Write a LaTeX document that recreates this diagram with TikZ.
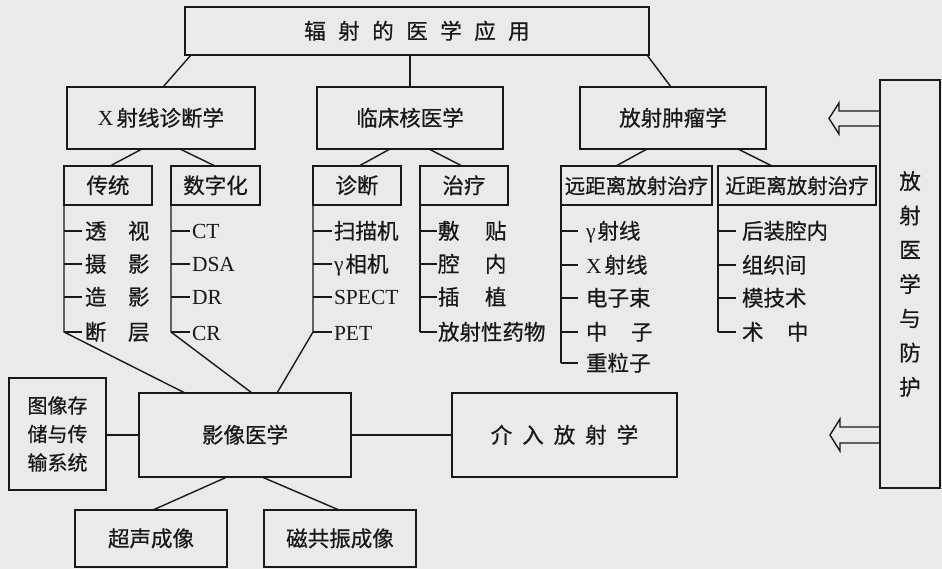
\documentclass[tikz,border=0pt]{standalone}
\usepackage{fontspec}
\setmainfont{Liberation Serif}
\newfontfamily\cjk[FakeBold=0.6]{Noto Sans CJK SC}
\usetikzlibrary{calc}
\definecolor{paper}{RGB}{234,234,234}
\definecolor{ink}{RGB}{24,24,24}
\newcommand\la[1]{{\rmfamily #1}}
\newcommand\cjkfont{\cjk\fontsize{21.5}{26}\selectfont}
\newcommand\cjksmall{\cjk\fontsize{20.5}{26}\selectfont}
\tikzset{
  frame/.style={draw=ink, line width=2.6pt, inner sep=0pt, outer sep=0pt},
  lbl/.style={font=\cjkfont, text=ink, text height=16pt, text depth=0pt},
  box/.style={frame, lbl},
  conn/.style={draw=ink, line width=1.4pt},
  item/.style={lbl, anchor=west, inner sep=0pt, outer sep=0pt},
  hollow/.style={draw=ink, line width=1.4pt, line join=miter},
}
\newcommand\bx[7][box]{%
  \pgfmathsetmacro\bxcx{(#3+#5)/2}\pgfmathsetmacro\bxcy{(#4+#6)/2}%
  \pgfmathsetmacro\bxw{#5-#3}\pgfmathsetmacro\bxh{#6-#4}%
  \node[#1, minimum width=\bxw pt, minimum height=\bxh pt] (#2) at (\bxcx,\bxcy) {#7};}
\begin{document}
\begin{tikzpicture}[x=1pt,y=-1pt]
\fill[paper] (0,0) rectangle (942,569);
\useasboundingbox (0,0) rectangle (942,569);

% boxes
\bx{T}{185}{7}{649}{55}{辐\hspace{12.5pt}射\hspace{12.5pt}的\hspace{12.5pt}医\hspace{12.5pt}学\hspace{12.5pt}应\hspace{12.5pt}用}
\bx{A}{67}{87}{255}{149}{\la{X}\hspace{3pt}射线诊断学}
\bx{B}{317}{87}{503}{149}{临床核医学}
\bx{C}{580}{87}{766}{149}{放射肿瘤学}
\bx{A1}{64}{166}{152}{205}{传统}
\bx{A2}{171}{166}{260}{205}{数字化}
\bx{B1}{313}{166}{401}{205}{诊断}
\bx{B2}{420}{166}{508}{205}{治疗}
\bx[box,font=\cjksmall]{C1}{561}{166}{712}{205}{远距离放射治疗}
\bx[box,font=\cjksmall]{C2}{718}{166}{876}{205}{近距离放射治疗}
\bx{R}{880}{80}{940}{488}{}
\node[font=\cjk\fontsize{21.5}{34.3}\selectfont, text=ink, align=center, inner sep=0pt] (Rt) at (R.center) {放\\射\\医\\学\\与\\防\\护};
\bx[frame, align=center, text=ink, font=\cjk\fontsize{20}{28.5}\selectfont]{P}{9}{378}{106}{490}{图像存\\储与传\\输系统}
\bx{Y}{139}{393}{351}{477}{影像医学}
\bx{I}{452}{393}{677}{477}{介\hspace{10pt}入\hspace{10pt}放\hspace{10pt}射\hspace{10pt}学}
\bx{U}{75}{510}{227}{567}{超声成像}
\bx{M}{264}{510}{416}{567}{磁共振成像}

% items
\node[item] (a11) at (85,231) {透\hspace{21.5pt}视};
\node[item] (a12) at (85,264) {摄\hspace{21.5pt}影};
\node[item] (a13) at (85,297) {造\hspace{21.5pt}影};
\node[item] (a14) at (85,332) {断\hspace{21.5pt}层};
\node[item] (a21) at (192,231) {\la{CT}};
\node[item] (a22) at (192,264) {\la{DSA}};
\node[item] (a23) at (192,297) {\la{DR}};
\node[item] (a24) at (192,332) {\la{CR}};
\node[item] (b11) at (334,231) {扫描机};
\node[item] (b12) at (334,264) {\la{γ}\hspace{2pt}相机};
\node[item] (b13) at (334,297) {\la{SPECT}};
\node[item] (b14) at (334,332) {\la{PET}};
\node[item] (b21) at (438,231) {敷\hspace{25.5pt}贴};
\node[item] (b22) at (438,264) {腔\hspace{25.5pt}内};
\node[item] (b23) at (438,297) {插\hspace{25.5pt}植};
\node[item] (b24) at (438,332) {放射性药物};
\node[item] (c11) at (586,231) {\la{γ}\hspace{2pt}射线};
\node[item] (c12) at (586,265) {\la{X}\hspace{3pt}射线};
\node[item] (c13) at (586,298) {电子束};
\node[item] (c14) at (586,332) {中\hspace{23.5pt}子};
\node[item] (c15) at (586,363) {重粒子};
\node[item] (c21) at (742,231) {后装腔内};
\node[item] (c22) at (742,265) {组织间};
\node[item] (c23) at (742,298) {模技术};
\node[item] (c24) at (742,332) {术\hspace{23.5pt}中};

% top level connectors
\draw[conn] ($(T.south west)+(6,0)$) -- ($(A.north west)+(96,0)$);
\draw[conn] (B.north |- T.south) -- (B.north);
\draw[conn] ($(T.south east)+(-2,0)$) -- ($(C.north west)+(91,0)$);
% level 1 to level 2
\draw[conn] ($(A.south west)+(75,0)$) -- ($(A1.north west)+(46,0)$);
\draw[conn] ($(A.south west)+(113,0)$) -- ($(A2.north west)+(44,0)$);
\draw[conn] ($(B.south west)+(73,0)$) -- ($(B1.north west)+(46,0)$);
\draw[conn] ($(B.south west)+(112,0)$) -- ($(B2.north west)+(42,0)$);
\draw[conn] ($(C.south west)+(67,0)$) -- ($(C1.north west)+(55,0)$);
\draw[conn] ($(C.south west)+(158,0)$) -- ($(C2.north west)+(54,0)$);

% item trees
\draw[conn] (A1.south west) -- (A1.south west |- a14.west) -- ($(Y.north west)+(46,0)$);
\foreach \n in {a11,a12,a13,a14} \draw[conn] (A1.south west |- \n.west) -- ([xshift=-3pt]\n.west);
\draw[conn] (A2.south west) -- (A2.south west |- a24.west) -- ($(Y.north west)+(113,0)$);
\foreach \n in {a21,a22,a23,a24} \draw[conn] (A2.south west |- \n.west) -- ([xshift=-2pt]\n.west);
\draw[conn] (B1.south west) -- (B1.south west |- b14.west) -- ($(Y.north west)+(138,0)$);
\foreach \n in {b11,b12,b13,b14} \draw[conn] (B1.south west |- \n.west) -- ([xshift=-2pt]\n.west);
\draw[conn] (B2.south west) -- (B2.south west |- b24.west);
\foreach \n in {b21,b22,b23,b24} \draw[conn] (B2.south west |- \n.west) -- ([xshift=-1pt]\n.west);
\draw[conn] (C1.south west) -- (C1.south west |- c15.west);
\foreach \n in {c11,c12,c13,c14,c15} \draw[conn] (C1.south west |- \n.west) -- ([xshift=-8pt]\n.west);
\draw[conn] (C2.south west) -- (C2.south west |- c24.west);
\foreach \n in {c21,c22,c23,c24} \draw[conn] (C2.south west |- \n.west) -- ([xshift=-6pt]\n.west);

% bottom connectors
\draw[conn] (Y.west -| P.east) -- (Y.west);
\draw[conn] (Y.east) -- (I.west);
\draw[conn] ($(Y.south west)+(88,0)$) -- ($(U.north west)+(78,0)$);
\draw[conn] ($(Y.south west)+(123,0)$) -- ($(M.north west)+(75,0)$);

% hollow arrows from the protection box
\draw[hollow] (R.west |- 0,118.5) ++(0,-7.5) -- ++(-41,0) -- ++(0,-8) -- ++(-10,15.5) -- ++(10,15.5) -- ++(0,-8) -- ++(41,0);
\draw[hollow] (R.west |- 0,435) ++(0,-8) -- ++(-40,0) -- ++(0,-8) -- ++(-10,16) -- ++(10,16) -- ++(0,-8) -- ++(40,0);
\end{tikzpicture}
\end{document}
